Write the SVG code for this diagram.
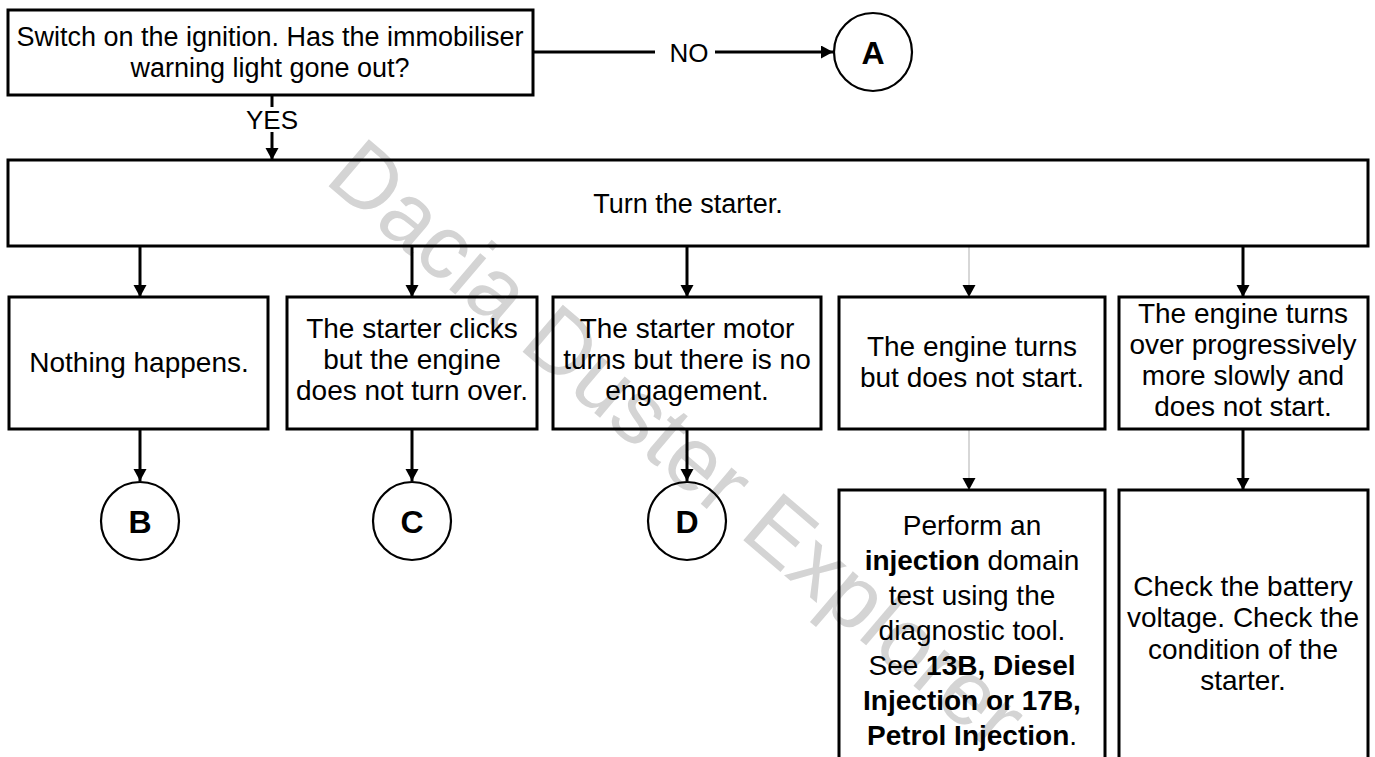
<svg xmlns="http://www.w3.org/2000/svg" width="1375" height="757" viewBox="0 0 1375 757">
<style>
.box{fill:none;stroke:#000;stroke-width:3}
.circ{fill:none;stroke:#000;stroke-width:2.2}
.t{font-family:"Liberation Sans",Arial,sans-serif;font-size:27px;fill:#000;text-anchor:middle}
.t2{font-family:"Liberation Sans",Arial,sans-serif;font-size:28px;fill:#000;text-anchor:middle}
.lbl{font-family:"Liberation Sans",Arial,sans-serif;font-size:26px;fill:#000;text-anchor:middle}
.ct{font-family:"Liberation Sans",Arial,sans-serif;font-size:32px;font-weight:bold;fill:#000;text-anchor:middle}
.b{font-weight:bold}
.ln{fill:none;stroke:#000;stroke-width:3}
.gl{fill:none;stroke:#bdbdbd;stroke-width:1.2}
.wm{font-family:"Liberation Sans",Arial,sans-serif;font-size:90px;fill:#d4d4d4;text-anchor:middle}
</style>
<defs>
<marker id="ah" markerUnits="userSpaceOnUse" markerWidth="14" markerHeight="14" refX="12" refY="6.5" orient="auto" viewBox="0 0 14 14">
<path d="M0,0 L12,6.5 L0,13 z" fill="#000"/>
</marker>
</defs>
<rect width="1375" height="757" fill="#fff"/>
<g id="watermark">
<text class="wm" transform="translate(676,446) rotate(40.5)" x="0" y="28">Dacia Duster Explorer</text>
</g>
<g id="connectors">
<line class="ln" x1="533" y1="52" x2="655" y2="52"/>
<line class="ln" x1="715" y1="52" x2="833" y2="52" marker-end="url(#ah)"/>
<line class="ln" x1="272" y1="95" x2="272" y2="107"/>
<line class="ln" x1="272" y1="132" x2="272" y2="160" marker-end="url(#ah)"/>
<line class="ln" x1="140" y1="246" x2="140" y2="297" marker-end="url(#ah)"/>
<line class="ln" x1="412" y1="246" x2="412" y2="297" marker-end="url(#ah)"/>
<line class="ln" x1="687" y1="246" x2="687" y2="297" marker-end="url(#ah)"/>
<line class="gl" x1="969" y1="246" x2="969" y2="297" marker-end="url(#ah)"/>
<line class="ln" x1="1243" y1="246" x2="1243" y2="297" marker-end="url(#ah)"/>
<line class="ln" x1="140" y1="429" x2="140" y2="481" marker-end="url(#ah)"/>
<line class="ln" x1="412" y1="429" x2="412" y2="481" marker-end="url(#ah)"/>
<line class="ln" x1="687" y1="429" x2="687" y2="481" marker-end="url(#ah)"/>
<line class="gl" x1="969" y1="429" x2="969" y2="490" marker-end="url(#ah)"/>
<line class="ln" x1="1243" y1="429" x2="1243" y2="490" marker-end="url(#ah)"/>
<text class="lbl" x="689" y="62">NO</text>
<text class="lbl" x="272" y="129">YES</text>
</g>
<g id="n-ignition">
<rect class="box" x="8" y="10" width="525" height="85"/>
<text class="t" x="270" y="46">Switch on the ignition. Has the immobiliser</text>
<text class="t" x="270" y="77">warning light gone out?</text>
</g>
<g id="n-A">
<circle class="circ" cx="873" cy="52" r="39"/>
<text class="ct" x="873" y="64">A</text>
</g>
<g id="n-starter">
<rect class="box" x="8" y="160" width="1360" height="86"/>
<text class="t" x="688" y="213">Turn the starter.</text>
</g>
<g id="n-nothing">
<rect class="box" x="9" y="297" width="259" height="132"/>
<text class="t2" x="139" y="372">Nothing happens.</text>
</g>
<g id="n-clicks">
<rect class="box" x="287" y="297" width="250" height="132"/>
<text class="t2" x="412" y="338">The starter clicks</text>
<text class="t2" x="412" y="369">but the engine</text>
<text class="t2" x="412" y="400">does not turn over.</text>
</g>
<g id="n-motor">
<rect class="box" x="553" y="297" width="268" height="132"/>
<text class="t2" x="687" y="338">The starter motor</text>
<text class="t2" x="687" y="369">turns but there is no</text>
<text class="t2" x="687" y="400">engagement.</text>
</g>
<g id="n-turns">
<rect class="box" x="839" y="297" width="266" height="132"/>
<text class="t2" x="972" y="356">The engine turns</text>
<text class="t2" x="972" y="387">but does not start.</text>
</g>
<g id="n-slowly">
<rect class="box" x="1119" y="297" width="249" height="132"/>
<text class="t2" x="1243" y="323">The engine turns</text>
<text class="t2" x="1243" y="354">over progressively</text>
<text class="t2" x="1243" y="385">more slowly and</text>
<text class="t2" x="1243" y="416">does not start.</text>
</g>
<g id="n-B">
<circle class="circ" cx="140" cy="521" r="39"/>
<text class="ct" x="140" y="533">B</text>
</g>
<g id="n-C">
<circle class="circ" cx="412" cy="521" r="39"/>
<text class="ct" x="412" y="533">C</text>
</g>
<g id="n-D">
<circle class="circ" cx="687" cy="521" r="39"/>
<text class="ct" x="687" y="533">D</text>
</g>
<g id="n-injection">
<rect class="box" x="839" y="490" width="266" height="290"/>
<text class="t2" x="972" y="535">Perform an</text>
<text class="t2" x="972" y="570"><tspan class="b">injection</tspan> domain</text>
<text class="t2" x="972" y="605">test using the</text>
<text class="t2" x="972" y="640">diagnostic tool.</text>
<text class="t2" x="972" y="675">See <tspan class="b">13B, Diesel</tspan></text>
<text class="t2" x="972" y="710"><tspan class="b">Injection or 17B,</tspan></text>
<text class="t2" x="972" y="745"><tspan class="b">Petrol Injection</tspan>.</text>
</g>
<g id="n-battery">
<rect class="box" x="1119" y="490" width="249" height="290"/>
<text class="t2" x="1243" y="596">Check the battery</text>
<text class="t2" x="1243" y="627">voltage. Check the</text>
<text class="t2" x="1243" y="659">condition of the</text>
<text class="t2" x="1243" y="690">starter.</text>
</g>
</svg>
